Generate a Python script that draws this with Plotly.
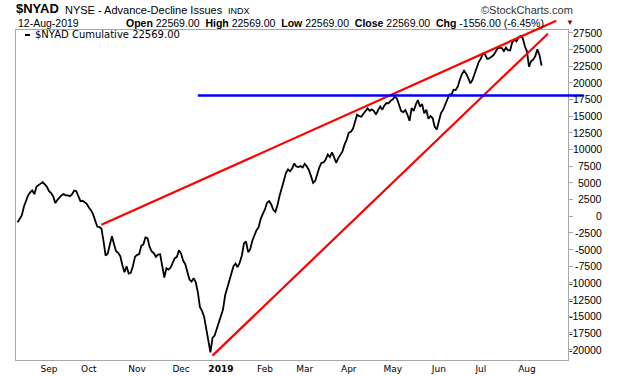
import pandas as pd
import plotly.graph_objects as go

# ---------------- data ----------------
start_date = "2018-08-13"
calendar_end = "2019-09-30"
market_holidays = ["2018-09-03", "2018-11-22", "2018-12-05", "2018-12-25", "2019-01-01",
                   "2019-01-21", "2019-02-18", "2019-04-19", "2019-05-27", "2019-07-04",
                   "2019-09-02"]

# $NYAD cumulative, one value per trading day from 13-Aug-2018 to 12-Aug-2019
nyad_values = [
    -900, -450, 100, 1400, 2400, 3100, 3550, 3850, 3300, 4400,
    4650, 4850, 5100, 4750, 4400, 3750, 3450, 2950, 1950, 2450,
    2850, 3150, 3300, 3100, 3100, 3000, 3300, 3850, 3750, 2950,
    2250, 2300, 2050, 1850, 1300, 900, 300, -800, -1550, -1650,
    -1850, -3750, -5900, -5600, -4400, -3000, -4200, -5250, -5500, -6000,
    -7350, -8400, -7500, -8600, -8500, -7500, -6100, -5800, -5700, -4450,
    -4250, -3200, -3300, -4600, -5300, -5550, -6100, -5750, -5700, -7350,
    -9200, -7800, -8000, -7700, -7000, -6300, -6100, -5100, -5600, -6700,
    -7200, -8200, -9500, -9800, -9300, -9900, -11400, -13650, -14200, -15100,
    -16700, -18600, -20400, -18250, -17900, -16900, -16000, -15000, -14000, -11900,
    -10750, -9400, -8300, -7500, -7100, -7650, -6950, -5900, -4100, -3800,
    -5400, -4950, -3650, -2700, -2100, -1650, -400, 350, 1000, 2000,
    2250, 1750, 950, 650, 1650, 3050, 4000, 5250, 6450, 7000,
    6750, 7150, 7900, 7450, 7350, 7500, 7300, 7850, 7450, 6900,
    6000, 5000, 5300, 6450, 7350, 8000, 8050, 8500, 9250, 8850,
    9550, 8800, 8000, 8700, 9200, 9700, 10750, 11450, 12500, 12650,
    13100, 14050, 15200, 15000, 14900, 15350, 15800, 16150, 15800, 16000,
    15750, 15250, 15900, 16450, 15950, 16600, 16950, 16900, 17300, 17500,
    17900, 17600, 16700, 15750, 15600, 15900, 15200, 14300, 16200, 15750,
    16750, 17400, 16400, 16800, 15400, 15950, 14600, 15000, 14700, 13400,
    13000, 14500, 15450, 15950, 16700, 17600, 18250, 18200, 18950, 18900,
    19400, 20450, 21300, 21800, 21350, 20700, 19900, 20400, 21350, 22500,
    23100, 23600, 24350, 24250, 23600, 23650, 23900, 24100, 24600, 25150,
    25250, 25200, 24750, 25250, 24850, 24850, 26050, 26450, 26200, 26800,
    27000, 26700, 25500, 24700, 22400, 23250, 23450, 24000, 25000, 24125,
    22569,
]

month_tick_months = ["2018-09", "2018-10", "2018-11", "2018-12", "2019-01", "2019-02",
                     "2019-03", "2019-04", "2019-05", "2019-06", "2019-07", "2019-08"]
month_tick_labels = ["Sep", "Oct", "Nov", "Dec", "<b>2019</b>", "Feb",
                     "Mar", "Apr", "May", "Jun", "Jul", "Aug"]

y_tick_values = [-20000, -17500, -15000, -12500, -10000, -7500, -5000, -2500, 0,
                 2500, 5000, 7500, 10000, 12500, 15000, 17500, 20000, 22500, 25000, 27500]

upper_trend_dates = ["2018-10-09", "2019-08-21"]
upper_trend_values = [-1300, 29300]
lower_trend_dates = ["2018-12-26", "2019-08-15"]
lower_trend_values = [-20900, 27350]
level_dates = ["2018-12-14", "2019-09-10"]
level_values = [18100, 18100]

# ---------------- trading calendar ----------------
days = pd.bdate_range(start_date, calendar_end)
days = days[~days.isin(pd.to_datetime(market_holidays))]
day_str = [d.strftime("%Y-%m-%d") for d in days]
pos = {d: i for i, d in enumerate(day_str)}

x_vals = [pos[d] for d in day_str[:len(nyad_values)]]
month_str = [d.strftime("%Y-%m") for d in days]
tick_pos = [month_str.index(m) for m in month_tick_months]

X0, X1 = -0.76, 262.6
Y0, Y1 = -21560, 27900

W, H = 620, 376
ML, MR, MT, MB = 16, 52, 30, 16
PW, PH = W - ML - MR, H - MT - MB


def px_x(p):
    return (p - ML) / PW


def px_y(p):
    return (H - MB - p) / PH


def to_paper(date, v):
    return (pos[date] - X0) / (X1 - X0), (v - Y0) / (Y1 - Y0)


fig = go.Figure()
fig.add_trace(go.Scatter(x=x_vals, y=nyad_values, mode="lines",
                         line=dict(color="#000000", width=1.8), hoverinfo="skip",
                         showlegend=False))

shapes = []
for dates, vals, col, wd in [(upper_trend_dates, upper_trend_values, "#ff0000", 2.2),
                             (lower_trend_dates, lower_trend_values, "#ff0000", 2.2),
                             (level_dates, level_values, "#0000ff", 2.5)]:
    xa, ya = to_paper(dates[0], vals[0])
    xb, yb = to_paper(dates[1], vals[1])
    shapes.append(dict(type="line", xref="paper", yref="paper", x0=xa, y0=ya, x1=xb, y1=yb,
                       line=dict(color=col, width=wd), layer="above"))

# legend dash
shapes.append(dict(type="line", xref="paper", yref="paper", x0=px_x(25), x1=px_x(30),
                   y0=px_y(35), y1=px_y(35), line=dict(color="#000000", width=2)))

annotations = []
for v in y_tick_values:
    annotations.append(dict(xref="paper", yref="y", x=px_x(604), y=v, text=str(v),
                            showarrow=False, xanchor="right", yanchor="middle",
                            font=dict(family="Liberation Sans, Arial", size=10.5, color="#000000")))


def label(px, py, text, size, anchor="left", family="Liberation Sans, Arial", color="#000000"):
    annotations.append(dict(xref="paper", yref="paper", x=px_x(px), y=px_y(py), text=text,
                            showarrow=False, xanchor=anchor, yanchor="middle",
                            font=dict(family=family, size=size, color=color)))


label(14, 9, "<b>$NYAD</b>", 13)
label(63, 10, "NYSE - Advance-Decline Issues", 11)
label(226, 10.5, "INDX", 9)
label(575, 10, "©StockCharts.com", 11, anchor="right", color="#333333")
label(16, 23.5, "12-Aug-2019", 10.5)
label(124, 23.5,
      "<b>Open</b> 22569.00&nbsp;&nbsp;<b>High</b> 22569.00&nbsp;&nbsp;<b>Low</b> 22569.00&nbsp;&nbsp;"
      "<b>Close</b> 22569.00&nbsp;&nbsp;<b>Chg</b> -1556.00 (-6.45%)", 10.5)
label(570, 22.5, "▼", 8, anchor="center", color="#990000")
label(33, 35, "$NYAD Cumulative 22569.00", 10, family="DejaVu Sans")

fig.update_layout(
    width=W, height=H,
    margin=dict(l=ML, r=MR, t=MT, b=MB, autoexpand=False),
    paper_bgcolor="#ffffff", plot_bgcolor="#ffffff",
    shapes=shapes, annotations=annotations, showlegend=False,
    hovermode=False,
    xaxis=dict(range=[X0, X1], showgrid=False, zeroline=False, showline=True, mirror=True,
               linecolor="#a8a8a8", linewidth=1, ticks="",
               tickvals=tick_pos, ticktext=month_tick_labels,
               tickfont=dict(family="DejaVu Sans", size=9, color="#000000")),
    yaxis=dict(range=[Y0, Y1], side="right", showgrid=False, zeroline=False, showline=True,
               mirror=True, linecolor="#a8a8a8", linewidth=1, ticks="outside", ticklen=4,
               tickcolor="#a8a8a8", tickvals=y_tick_values, showticklabels=False),
)

fig.write_html("out.html", config={"displayModeBar": False, "staticPlot": True},
               post_script="document.body.style.margin='0';document.body.style.padding='0';")
